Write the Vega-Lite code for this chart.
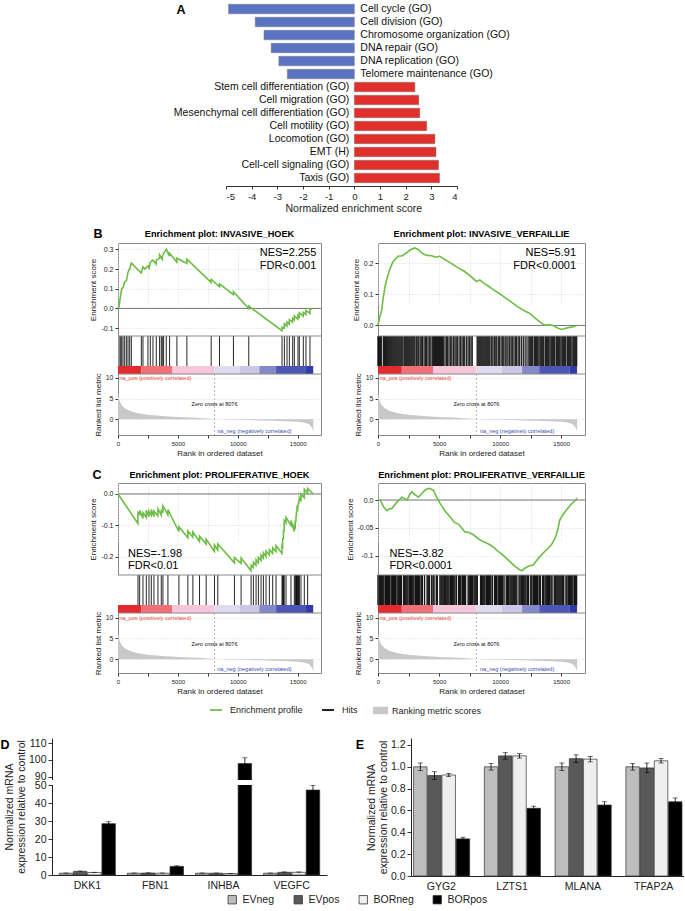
{
"$schema":"https://vega.github.io/schema/vega-lite/v6.json",
"padding":{"left":0,"top":3,"right":0,"bottom":0},
"background":"white",
"config":{"font":"Liberation Sans","view":{"stroke":null},"axis":{"domainColor":"#333","tickColor":"#333","labelColor":"#222","titleColor":"#222","labelFont":"Liberation Sans","titleFont":"Liberation Sans","labelOverlap":false,"tickCount":20},"legend":{"labelFont":"Liberation Sans"},"title":{"font":"Liberation Sans","color":"#000"},"text":{"font":"Liberation Sans"}},
"datasets":{
"ranked":[{"rank":0,"metric":6.5},{"rank":30,"metric":6.0},{"rank":80,"metric":5.0},{"rank":150,"metric":4.3},{"rank":250,"metric":3.7},{"rank":400,"metric":3.1},{"rank":600,"metric":2.6},{"rank":850,"metric":2.2},{"rank":1150,"metric":1.85},{"rank":1500,"metric":1.55},{"rank":2000,"metric":1.28},{"rank":2500,"metric":1.08},{"rank":3000,"metric":0.95},{"rank":3500,"metric":0.83},{"rank":4000,"metric":0.73},{"rank":4500,"metric":0.64},{"rank":5000,"metric":0.56},{"rank":5500,"metric":0.49},{"rank":6000,"metric":0.42},{"rank":6500,"metric":0.35},{"rank":7000,"metric":0.28},{"rank":7500,"metric":0.2},{"rank":7900,"metric":0.1},{"rank":8060,"metric":0},{"rank":9000,"metric":-0.06},{"rank":10000,"metric":-0.12},{"rank":11000,"metric":-0.19},{"rank":12000,"metric":-0.26},{"rank":13000,"metric":-0.34},{"rank":14000,"metric":-0.44},{"rank":15000,"metric":-0.6},{"rank":15500,"metric":-0.75},{"rank":15900,"metric":-1.1},{"rank":16100,"metric":-1.6},{"rank":16250,"metric":-2.4},{"rank":16300,"metric":-3.0},{"rank":16310,"metric":0}],
"cbar":[{"s":0,"e":1950,"level":1},{"s":1950,"e":4530,"level":2},{"s":4530,"e":8060,"level":3},{"s":8060,"e":10140,"level":4},{"s":10140,"e":11800,"level":5},{"s":11800,"e":13200,"level":6},{"s":13200,"e":15700,"level":7},{"s":15700,"e":16300,"level":8}],
"hitsBL":[{"rank":86},{"rank":197},{"rank":308},{"rank":420},{"rank":558},{"rank":697},{"rank":836},{"rank":975},{"rank":1114},{"rank":1947},{"rank":2086},{"rank":2502},{"rank":2697},{"rank":2919},{"rank":3197},{"rank":3474},{"rank":3613},{"rank":3697},{"rank":3808},{"rank":4030},{"rank":4308},{"rank":4919},{"rank":5752},{"rank":7780},{"rank":8474},{"rank":9640},{"rank":10918},{"rank":13696},{"rank":13891},{"rank":14113},{"rank":14307},{"rank":14585},{"rank":14724},{"rank":15029},{"rank":15140},{"rank":15474},{"rank":15696},{"rank":16030}],
"hitsBR":[{"rank":0},{"rank":40},{"rank":120},{"rank":200},{"rank":280},{"rank":440},{"rank":520},{"rank":600},{"rank":680},{"rank":760},{"rank":840},{"rank":920},{"rank":1000},{"rank":1080},{"rank":1160},{"rank":1240},{"rank":1320},{"rank":1400},{"rank":1480},{"rank":1560},{"rank":1640},{"rank":1720},{"rank":1800},{"rank":1880},{"rank":1960},{"rank":2040},{"rank":2150},{"rank":2230},{"rank":2310},{"rank":2390},{"rank":2470},{"rank":2550},{"rank":2630},{"rank":2710},{"rank":2790},{"rank":2870},{"rank":2950},{"rank":3030},{"rank":3150},{"rank":3260},{"rank":3340},{"rank":3460},{"rank":3580},{"rank":3650},{"rank":3780},{"rank":3900},{"rank":3980},{"rank":4100},{"rank":4220},{"rank":4330},{"rank":4450},{"rank":4550},{"rank":4630},{"rank":4710},{"rank":4790},{"rank":4870},{"rank":4950},{"rank":5030},{"rank":5110},{"rank":5190},{"rank":5270},{"rank":5350},{"rank":5480},{"rank":5600},{"rank":5700},{"rank":5820},{"rank":5950},{"rank":6050},{"rank":6180},{"rank":6300},{"rank":6400},{"rank":6500},{"rank":6640},{"rank":6760},{"rank":6880},{"rank":7000},{"rank":7100},{"rank":7250},{"rank":7380},{"rank":7500},{"rank":7620},{"rank":7720},{"rank":8120},{"rank":8200},{"rank":8280},{"rank":8360},{"rank":8440},{"rank":8520},{"rank":8600},{"rank":8680},{"rank":8760},{"rank":8840},{"rank":8920},{"rank":9000},{"rank":9080},{"rank":9160},{"rank":9280},{"rank":9400},{"rank":9520},{"rank":9600},{"rank":9720},{"rank":9850},{"rank":9950},{"rank":10080},{"rank":10200},{"rank":10300},{"rank":10420},{"rank":10550},{"rank":10650},{"rank":10780},{"rank":10900},{"rank":11000},{"rank":11130},{"rank":11250},{"rank":11350},{"rank":11480},{"rank":11600},{"rank":11750},{"rank":11900},{"rank":12050},{"rank":12200},{"rank":12350},{"rank":12430},{"rank":12510},{"rank":12590},{"rank":12670},{"rank":12800},{"rank":12880},{"rank":12960},{"rank":13040},{"rank":13120},{"rank":13250},{"rank":13330},{"rank":13410},{"rank":13490},{"rank":13570},{"rank":13700},{"rank":13780},{"rank":13860},{"rank":13940},{"rank":14020},{"rank":14150},{"rank":14230},{"rank":14310},{"rank":14390},{"rank":14470},{"rank":14600},{"rank":14680},{"rank":14760},{"rank":14840},{"rank":14920},{"rank":15050},{"rank":15130},{"rank":15210},{"rank":15290},{"rank":15370},{"rank":15500},{"rank":15580},{"rank":15660},{"rank":15740},{"rank":15820},{"rank":15950},{"rank":16030},{"rank":16110},{"rank":16190},{"rank":16270}],
"hitsCL":[{"rank":1669},{"rank":1808},{"rank":2086},{"rank":2364},{"rank":2586},{"rank":2780},{"rank":3002},{"rank":3336},{"rank":3613},{"rank":3752},{"rank":4169},{"rank":5085},{"rank":5835},{"rank":6252},{"rank":6807},{"rank":7362},{"rank":8056},{"rank":8334},{"rank":9723},{"rank":10279},{"rank":11112},{"rank":11306},{"rank":11528},{"rank":11723},{"rank":11945},{"rank":12140},{"rank":12362},{"rank":12640},{"rank":12917},{"rank":13195},{"rank":13695},{"rank":13750},{"rank":13820},{"rank":13880},{"rank":14029},{"rank":14445},{"rank":14723},{"rank":14800},{"rank":14862},{"rank":14900},{"rank":14945},{"rank":15000},{"rank":15056},{"rank":15100},{"rank":15140},{"rank":15279},{"rank":15556},{"rank":15834}],
"hitsCR":[{"rank":0},{"rank":100},{"rank":190},{"rank":300},{"rank":390},{"rank":480},{"rank":600},{"rank":690},{"rank":780},{"rank":870},{"rank":960},{"rank":1080},{"rank":1170},{"rank":1260},{"rank":1350},{"rank":1440},{"rank":1560},{"rank":1650},{"rank":1740},{"rank":1830},{"rank":1920},{"rank":2100},{"rank":2190},{"rank":2280},{"rank":2370},{"rank":2460},{"rank":2580},{"rank":2670},{"rank":2760},{"rank":2850},{"rank":2940},{"rank":3060},{"rank":3150},{"rank":3240},{"rank":3330},{"rank":3420},{"rank":3540},{"rank":3630},{"rank":3810},{"rank":4020},{"rank":4110},{"rank":4200},{"rank":4380},{"rank":4500},{"rank":4590},{"rank":4770},{"rank":4860},{"rank":5070},{"rank":5160},{"rank":5250},{"rank":5340},{"rank":5460},{"rank":5550},{"rank":5640},{"rank":5730},{"rank":5820},{"rank":5940},{"rank":6030},{"rank":6120},{"rank":6210},{"rank":6300},{"rank":6420},{"rank":6600},{"rank":6690},{"rank":6780},{"rank":6900},{"rank":6990},{"rank":7080},{"rank":7170},{"rank":7380},{"rank":7470},{"rank":7560},{"rank":7650},{"rank":7740},{"rank":7860},{"rank":7950},{"rank":8040},{"rank":8130},{"rank":8400},{"rank":8490},{"rank":8580},{"rank":8670},{"rank":8760},{"rank":8880},{"rank":8970},{"rank":9060},{"rank":9150},{"rank":9240},{"rank":9360},{"rank":9540},{"rank":9630},{"rank":9720},{"rank":9840},{"rank":9930},{"rank":10020},{"rank":10110},{"rank":10200},{"rank":10320},{"rank":10500},{"rank":10590},{"rank":10680},{"rank":10800},{"rank":10890},{"rank":10980},{"rank":11070},{"rank":11160},{"rank":11280},{"rank":11370},{"rank":11550},{"rank":11640},{"rank":11760},{"rank":11850},{"rank":11940},{"rank":12030},{"rank":12120},{"rank":12240},{"rank":12330},{"rank":12510},{"rank":12600},{"rank":12720},{"rank":12810},{"rank":12900},{"rank":12990},{"rank":13080},{"rank":13200},{"rank":13290},{"rank":13470},{"rank":13560},{"rank":13680},{"rank":13770},{"rank":13860},{"rank":13950},{"rank":14040},{"rank":14160},{"rank":14250},{"rank":14430},{"rank":14520},{"rank":14640},{"rank":14730},{"rank":14820},{"rank":14910},{"rank":15000},{"rank":15120},{"rank":15210},{"rank":15390},{"rank":15480},{"rank":15600},{"rank":15690},{"rank":15780},{"rank":15870},{"rank":15960},{"rank":16080},{"rank":16170},{"rank":16260}],
"dvals":[{"gene":"DKK1","group":"EVneg","value":1.0,"lo":0.9,"hi":1.1},{"gene":"DKK1","group":"EVpos","value":2.0,"lo":1.8,"hi":2.2},{"gene":"DKK1","group":"BORneg","value":1.4,"lo":1.3,"hi":1.5},{"gene":"DKK1","group":"BORpos","value":28.5,"lo":27.5,"hi":29.6},{"gene":"FBN1","group":"EVneg","value":1.0,"lo":0.9,"hi":1.1},{"gene":"FBN1","group":"EVpos","value":1.1,"lo":1.0,"hi":1.2},{"gene":"FBN1","group":"BORneg","value":1.0,"lo":0.9,"hi":1.1},{"gene":"FBN1","group":"BORpos","value":4.8,"lo":4.5,"hi":5.1},{"gene":"INHBA","group":"EVneg","value":1.0,"lo":0.9,"hi":1.1},{"gene":"INHBA","group":"EVpos","value":1.0,"lo":0.9,"hi":1.1},{"gene":"INHBA","group":"BORneg","value":0.8,"lo":0.7,"hi":0.9},{"gene":"INHBA","group":"BORpos","value":97.8,"lo":94.5,"hi":101.2},{"gene":"VEGFC","group":"EVneg","value":1.0,"lo":0.9,"hi":1.1},{"gene":"VEGFC","group":"EVpos","value":1.5,"lo":1.3,"hi":1.7},{"gene":"VEGFC","group":"BORneg","value":1.5,"lo":1.3,"hi":1.7},{"gene":"VEGFC","group":"BORpos","value":47.2,"lo":44.8,"hi":49.8}]
},
"spacing":0,
"resolve":{"scale":{"color":"independent"},"legend":{"color":"independent"}},
"vconcat":[
{"spacing":0,"bounds":"flush","hconcat":[
 {"width":175,"height":222,"data":{"values":[]},"mark":"point"},
 {"width":12,"height":13,"data":{"values":[{}]},"mark":{"type":"text","text":"A","fontSize":12.5,"fontWeight":"bold"}},
 {"width":39,"height":1,"data":{"values":[]},"mark":"point"},
 {"width":231,"height":181,
  "data":{"values":[{"term":"Cell cycle (GO)","nes":-4.9},{"term":"Cell division (GO)","nes":-3.86},{"term":"Chromosome organization (GO)","nes":-3.52},{"term":"DNA repair (GO)","nes":-3.24},{"term":"DNA replication (GO)","nes":-2.94},{"term":"Telomere maintenance (GO)","nes":-2.61},{"term":"Stem cell differentiation (GO)","nes":2.36},{"term":"Cell migration (GO)","nes":2.51},{"term":"Mesenchymal cell differentiation (GO)","nes":2.55},{"term":"Cell motility (GO)","nes":2.82},{"term":"Locomotion (GO)","nes":3.14},{"term":"EMT (H)","nes":3.18},{"term":"Cell-cell signaling (GO)","nes":3.28},{"term":"Taxis (GO)","nes":3.32}]},
  "encoding":{"y":{"field":"term","type":"nominal","axis":null,"scale":{"domain":["Cell cycle (GO)","Cell division (GO)","Chromosome organization (GO)","DNA repair (GO)","DNA replication (GO)","Telomere maintenance (GO)","Stem cell differentiation (GO)","Cell migration (GO)","Mesenchymal cell differentiation (GO)","Cell motility (GO)","Locomotion (GO)","EMT (H)","Cell-cell signaling (GO)","Taxis (GO)"],"paddingInner":0.27,"paddingOuter":0.1}}},
  "layer":[
   {"mark":{"type":"bar","stroke":"#777","strokeWidth":0.5},"encoding":{"x":{"field":"nes","type":"quantitative","scale":{"domain":[-5,4],"nice":false},"axis":{"values":[-5,-4,-3,-2,-1,0,1,2,3,4],"tickCount":20,"format":"d","labelExpr":"replace(datum.label,'\u2212','-')","labelOverlap":false,"title":"Normalized enrichment score","titleFontSize":10.5,"titleFontWeight":"normal","titleX":59,"titleAlign":"left","labelFontSize":9.5,"tickSize":3,"grid":false,"offset":2,"titlePadding":3,"labelPadding":2}},"color":{"condition":{"test":"datum.nes < 0","value":"#5b73c3"},"value":"#e12f2b"}}},
   {"transform":[{"filter":"datum.nes < 0"}],"mark":{"type":"text","align":"left","dx":6,"fontSize":10.5,"color":"#111"},"encoding":{"x":{"datum":0},"text":{"field":"term"}}},
   {"transform":[{"filter":"datum.nes > 0"}],"mark":{"type":"text","align":"right","dx":-5,"fontSize":10.5,"color":"#111"},"encoding":{"x":{"datum":0},"text":{"field":"term"}}}
  ]}
]},
{"spacing":0,"bounds":"flush","hconcat":[
 {"width":93,"height":17,"data":{"values":[]},"mark":"point"},
 {"width":10,"height":17,"data":{"values":[{}]},"mark":{"type":"text","text":"B","fontSize":12.5,"fontWeight":"bold"}},
 {"width":15,"height":1,"data":{"values":[]},"mark":"point"},
 {"width":203,"height":17,"data":{"values":[{}]},"mark":{"type":"text","text":"Enrichment plot: INVASIVE_HOEK","fontSize":9.2,"fontWeight":"bold"}},
 {"width":57,"height":1,"data":{"values":[]},"mark":"point"},
 {"width":207,"height":17,"data":{"values":[{}]},"mark":{"type":"text","text":"Enrichment plot: INVASIVE_VERFAILLIE","fontSize":9.2,"fontWeight":"bold"}}
]},
{"spacing":0,"bounds":"flush","hconcat":[
 {"width":118,"height":225,"data":{"values":[]},"mark":"point"},
 {"width":203,"height":192,"view":{"stroke":"#888"},
  "resolve":{"scale":{"y":"independent"},"axis":{"y":"independent"}},
  "layer":[
   {"layer":[
     {"data":{"name":"ranked"},"mark":{"type":"area"},"encoding":{"x":{"field":"rank","type":"quantitative","scale":{"domain":[0,16950],"nice":false,"zero":false},"axis":{"values":[0,2500,5000,7500,10000,12500,15000],"tickCount":20,"format":"d","labelExpr":"datum.value % 5000 == 0 ? datum.label : ''","title":"Rank in ordered dataset","titleFontSize":8,"titleFontWeight":"normal","labelFontSize":6,"tickSize":3,"domain":false,"grid":true,"gridColor":"#d8d8d8","gridDash":[1,2],"labelPadding":2,"titlePadding":3,"labelFlush":false,"labelOverlap":false}},"y":{"field":"metric","type":"quantitative","scale":{"domain":[-3.77,10.89],"range":[192,131],"nice":false,"zero":false},"axis":{"orient":"left","values":[0,5,10],"tickCount":20,"title":"Ranked list metric","titleFontSize":8,"titleFontWeight":"normal","labelFontSize":7,"tickSize":3,"domain":false,"grid":true,"gridColor":"#d8d8d8","gridDash":[1,2],"titlePadding":3,"labelPadding":2,"labelOverlap":false}},"fill":{"datum":"Ranking metric scores","scale":{"domain":["Ranking metric scores"],"range":["#c8c8c8"]},"legend":{"orient":"none","legendX":373,"legendY":700,"direction":"horizontal","title":null,"symbolType":"M-1,-0.5H1V0.5H-1Z","symbolSize":225,"symbolStrokeWidth":0,"labelFontSize":9,"labelOffset":4,"labelColor":"#222"}}}},
     {"data":{"values":[{}]},"mark":{"type":"rule","color":"#999","strokeDash":[2,2],"strokeWidth":0.7},"encoding":{"x":{"datum":8060},"y":{"datum":10.89},"y2":{"datum":-3.77}}},
     {"data":{"values":[{}]},"mark":{"type":"text","text":"na_pos (positively correlated)","color":"#e8413a","fontSize":5.5,"align":"left","baseline":"middle"},"encoding":{"x":{"datum":120},"y":{"datum":10}}},
     {"data":{"values":[{}]},"mark":{"type":"text","text":"Zero cross at 8076","color":"#111","fontSize":5.5,"align":"center","baseline":"middle"},"encoding":{"x":{"datum":8060},"y":{"datum":3.6}}},
     {"data":{"values":[{}]},"mark":{"type":"text","text":"na_neg (negatively correlated)","color":"#3b4bb5","fontSize":5.5,"align":"center","baseline":"middle"},"encoding":{"x":{"datum":11390},"y":{"datum":-2.74}}}
   ]},
   {"layer":[
     {"data":{"values":[{}]},"mark":{"type":"rule","color":"#555","strokeWidth":0.8},"encoding":{"y":{"datum":0,"scale":{"domain":[-0.14,0.332],"range":[93,0],"nice":false,"zero":false},"axis":{"orient":"left","values":[-0.1,0,0.1,0.2,0.3],"tickCount":20,"format":".1f","labelExpr":"replace(datum.label,'\u2212','-')","title":"Enrichment score","titleFontSize":8,"titleFontWeight":"normal","labelFontSize":7,"tickSize":3,"domain":false,"grid":true,"gridColor":"#d8d8d8","gridDash":[1,2],"titlePadding":3,"labelPadding":2,"labelOverlap":false}}}},
     {"data":{"values":[{"rank":0,"es":0},{"rank":86,"es":0.01},{"rank":200,"es":0.06},{"rank":310,"es":0.1},{"rank":420,"es":0.105},{"rank":560,"es":0.135},{"rank":700,"es":0.14},{"rank":840,"es":0.185},{"rank":975,"es":0.2},{"rank":1114,"es":0.23},{"rank":1940,"es":0.18},{"rank":2086,"es":0.21},{"rank":2220,"es":0.2},{"rank":2502,"es":0.215},{"rank":2600,"es":0.205},{"rank":2697,"es":0.235},{"rank":2919,"es":0.245},{"rank":3190,"es":0.225},{"rank":3197,"es":0.245},{"rank":3470,"es":0.255},{"rank":3474,"es":0.272},{"rank":3690,"es":0.25},{"rank":3697,"es":0.262},{"rank":3808,"es":0.28},{"rank":4030,"es":0.3},{"rank":4300,"es":0.265},{"rank":4308,"es":0.28},{"rank":4910,"es":0.235},{"rank":4919,"es":0.255},{"rank":5745,"es":0.228},{"rank":5752,"es":0.25},{"rank":7770,"es":0.132},{"rank":7780,"es":0.148},{"rank":8470,"es":0.11},{"rank":8474,"es":0.125},{"rank":9630,"es":0.07},{"rank":9640,"es":0.085},{"rank":10910,"es":0.0},{"rank":10918,"es":0.012},{"rank":13690,"es":-0.113},{"rank":13696,"es":-0.095},{"rank":13885,"es":-0.1},{"rank":13891,"es":-0.078},{"rank":14105,"es":-0.09},{"rank":14113,"es":-0.07},{"rank":14300,"es":-0.08},{"rank":14307,"es":-0.058},{"rank":14580,"es":-0.07},{"rank":14585,"es":-0.05},{"rank":14720,"es":-0.058},{"rank":14724,"es":-0.038},{"rank":15020,"es":-0.055},{"rank":15029,"es":-0.035},{"rank":15135,"es":-0.042},{"rank":15140,"es":-0.022},{"rank":15470,"es":-0.04},{"rank":15474,"es":-0.02},{"rank":15690,"es":-0.03},{"rank":15696,"es":-0.01},{"rank":16025,"es":-0.025},{"rank":16030,"es":-0.005},{"rank":16260,"es":0.0}]},
      "mark":{"type":"line","strokeWidth":1.6},
      "encoding":{"x":{"field":"rank","type":"quantitative","scale":{"domain":[0,16950],"nice":false,"zero":false}},"y":{"field":"es","type":"quantitative"},"stroke":{"datum":"Enrichment profile","scale":{"domain":["Enrichment profile","Hits"],"range":["#6cbd45","#000000"]},"legend":{"orient":"none","legendX":209,"legendY":700,"direction":"horizontal","title":null,"symbolType":"stroke","symbolSize":144,"symbolStrokeWidth":2,"labelFontSize":9,"labelOffset":7,"columnPadding":15,"labelColor":"#222"}}}},
     {"data":{"values":[{}]},"mark":{"type":"text","text":["NES=2.255","FDR<0.001"],"align":"right","baseline":"top","fontSize":11,"lineHeight":13},"encoding":{"x":{"datum":16560},"y":{"datum":0.31}}}
   ]},
   {"data":{"values":[{}]},"mark":{"type":"rect","fill":"white"},"encoding":{"y":{"datum":0,"scale":{"domain":[0,1],"range":[123,93]},"axis":null},"y2":{"datum":1}}},
   {"data":{"name":"hitsBL"},"mark":{"type":"rule","strokeWidth":1,"opacity":0.85},"encoding":{"x":{"field":"rank","type":"quantitative","scale":{"domain":[0,16950],"nice":false,"zero":false}},"y":{"datum":0,"scale":{"domain":[0,1],"range":[123,93]},"axis":null},"y2":{"datum":1},"stroke":{"datum":"Hits","scale":{"domain":["Enrichment profile","Hits"],"range":["#6cbd45","#000000"]}}}},
   {"data":{"name":"cbar"},"mark":{"type":"rect"},"encoding":{"x":{"field":"s","type":"quantitative","scale":{"domain":[0,16950],"nice":false,"zero":false}},"x2":{"field":"e"},"y":{"datum":0,"scale":{"domain":[0,1],"range":[131,123]},"axis":null},"y2":{"datum":1},"color":{"field":"level","type":"ordinal","scale":{"range":["#e32a2d","#ef7076","#f6c6da","#dfdcef","#cbc7e6","#8389cb","#4d55b5","#303ba7"]},"legend":null}}},
   {"data":{"values":[{}]},"mark":{"type":"rule","color":"#888","strokeWidth":1},"encoding":{"y":{"datum":1,"scale":{"domain":[0,1],"range":[123,93]},"axis":null}}},
   {"data":{"values":[{}]},"mark":{"type":"rule","color":"#888","strokeWidth":1},"encoding":{"y":{"datum":0,"scale":{"domain":[0,1],"range":[131,123]},"axis":null}}}
  ]},
 {"width":57,"height":1,"data":{"values":[]},"mark":"point"},
 {"width":207,"height":192,"view":{"stroke":"#888"},
  "resolve":{"scale":{"y":"independent"},"axis":{"y":"independent"}},
  "layer":[
   {"layer":[
     {"data":{"name":"ranked"},"mark":{"type":"area"},"encoding":{"x":{"field":"rank","type":"quantitative","scale":{"domain":[0,16950],"nice":false,"zero":false},"axis":{"values":[0,2500,5000,7500,10000,12500,15000],"tickCount":20,"format":"d","labelExpr":"datum.value % 5000 == 0 ? datum.label : ''","title":"Rank in ordered dataset","titleFontSize":8,"titleFontWeight":"normal","labelFontSize":6,"tickSize":3,"domain":false,"grid":true,"gridColor":"#d8d8d8","gridDash":[1,2],"labelPadding":2,"titlePadding":3,"labelFlush":false,"labelOverlap":false}},"y":{"field":"metric","type":"quantitative","scale":{"domain":[-3.77,10.89],"range":[192,131],"nice":false,"zero":false},"axis":{"orient":"left","values":[0,5,10],"tickCount":20,"title":"Ranked list metric","titleFontSize":8,"titleFontWeight":"normal","labelFontSize":7,"tickSize":3,"domain":false,"grid":true,"gridColor":"#d8d8d8","gridDash":[1,2],"titlePadding":3,"labelPadding":2,"labelOverlap":false}},"fill":{"datum":"Ranking metric scores","scale":{"domain":["Ranking metric scores"],"range":["#c8c8c8"]}}}},
     {"data":{"values":[{}]},"mark":{"type":"rule","color":"#999","strokeDash":[2,2],"strokeWidth":0.7},"encoding":{"x":{"datum":8060},"y":{"datum":10.89},"y2":{"datum":-3.77}}},
     {"data":{"values":[{}]},"mark":{"type":"text","text":"na_pos (positively correlated)","color":"#e8413a","fontSize":5.5,"align":"left","baseline":"middle"},"encoding":{"x":{"datum":120},"y":{"datum":10}}},
     {"data":{"values":[{}]},"mark":{"type":"text","text":"Zero cross at 8076","color":"#111","fontSize":5.5,"align":"center","baseline":"middle"},"encoding":{"x":{"datum":8060},"y":{"datum":3.6}}},
     {"data":{"values":[{}]},"mark":{"type":"text","text":"na_neg (negatively correlated)","color":"#3b4bb5","fontSize":5.5,"align":"center","baseline":"middle"},"encoding":{"x":{"datum":11390},"y":{"datum":-2.74}}}
   ]},
   {"layer":[
     {"data":{"values":[{}]},"mark":{"type":"rule","color":"#555","strokeWidth":0.8},"encoding":{"y":{"datum":0,"scale":{"domain":[-0.034,0.266],"range":[93,0],"nice":false,"zero":false},"axis":{"orient":"left","values":[0,0.1,0.2],"tickCount":20,"format":".1f","title":"Enrichment score","titleFontSize":8,"titleFontWeight":"normal","labelFontSize":7,"tickSize":3,"domain":false,"grid":true,"gridColor":"#d8d8d8","gridDash":[1,2],"titlePadding":3,"labelPadding":2,"labelOverlap":false}}}},
     {"data":{"values":[{"rank":0,"es":0},{"rank":100,"es":0.02},{"rank":300,"es":0.05},{"rank":450,"es":0.095},{"rank":574,"es":0.125},{"rank":700,"es":0.145},{"rank":820,"es":0.163},{"rank":1000,"es":0.185},{"rank":1230,"es":0.206},{"rank":1450,"es":0.215},{"rank":1640,"es":0.223},{"rank":2000,"es":0.225},{"rank":2320,"es":0.234},{"rank":2700,"es":0.245},{"rank":3005,"es":0.25},{"rank":3300,"es":0.245},{"rank":3550,"es":0.235},{"rank":3825,"es":0.228},{"rank":4100,"es":0.226},{"rank":4400,"es":0.225},{"rank":4700,"es":0.22},{"rank":5057,"es":0.223},{"rank":5600,"es":0.21},{"rank":6150,"es":0.196},{"rank":6600,"es":0.185},{"rank":7100,"es":0.174},{"rank":7600,"es":0.158},{"rank":8060,"es":0.142},{"rank":8336,"es":0.147},{"rank":8700,"es":0.135},{"rank":9000,"es":0.128},{"rank":9350,"es":0.118},{"rank":9700,"es":0.109},{"rank":10050,"es":0.1},{"rank":10400,"es":0.09},{"rank":10750,"es":0.08},{"rank":11066,"es":0.071},{"rank":11450,"es":0.06},{"rank":11800,"es":0.052},{"rank":12100,"es":0.045},{"rank":12432,"es":0.039},{"rank":12750,"es":0.028},{"rank":13000,"es":0.02},{"rank":13300,"es":0.01},{"rank":13660,"es":0.001},{"rank":14000,"es":0.002},{"rank":14345,"es":0.0},{"rank":14700,"es":-0.008},{"rank":15027,"es":-0.013},{"rank":15300,"es":-0.01},{"rank":15600,"es":-0.007},{"rank":15984,"es":-0.004},{"rank":16300,"es":0.0}]},
      "mark":{"type":"line","strokeWidth":1.6},
      "encoding":{"x":{"field":"rank","type":"quantitative","scale":{"domain":[0,16950],"nice":false,"zero":false}},"y":{"field":"es","type":"quantitative"},"stroke":{"datum":"Enrichment profile","scale":{"domain":["Enrichment profile","Hits"],"range":["#6cbd45","#000000"]}}}},
     {"data":{"values":[{}]},"mark":{"type":"text","text":["NES=5.91","FDR<0.0001"],"align":"right","baseline":"top","fontSize":11,"lineHeight":13},"encoding":{"x":{"datum":16216},"y":{"datum":0.2526}}}
   ]},
   {"data":{"values":[{}]},"mark":{"type":"rect","fill":"white"},"encoding":{"y":{"datum":0,"scale":{"domain":[0,1],"range":[123,93]},"axis":null},"y2":{"datum":1}}},
   {"data":{"name":"hitsBR"},"mark":{"type":"rule","strokeWidth":1.3,"opacity":0.85},"encoding":{"x":{"field":"rank","type":"quantitative","scale":{"domain":[0,16950],"nice":false,"zero":false}},"y":{"datum":0,"scale":{"domain":[0,1],"range":[123,93]},"axis":null},"y2":{"datum":1},"stroke":{"datum":"Hits","scale":{"domain":["Enrichment profile","Hits"],"range":["#6cbd45","#000000"]}}}},
   {"data":{"name":"cbar"},"mark":{"type":"rect"},"encoding":{"x":{"field":"s","type":"quantitative","scale":{"domain":[0,16950],"nice":false,"zero":false}},"x2":{"field":"e"},"y":{"datum":0,"scale":{"domain":[0,1],"range":[131,123]},"axis":null},"y2":{"datum":1},"color":{"field":"level","type":"ordinal","scale":{"range":["#e32a2d","#ef7076","#f6c6da","#dfdcef","#cbc7e6","#8389cb","#4d55b5","#303ba7"]},"legend":null}}},
   {"data":{"values":[{}]},"mark":{"type":"rule","color":"#888","strokeWidth":1},"encoding":{"y":{"datum":1,"scale":{"domain":[0,1],"range":[123,93]},"axis":null}}},
   {"data":{"values":[{}]},"mark":{"type":"rule","color":"#888","strokeWidth":1},"encoding":{"y":{"datum":0,"scale":{"domain":[0,1],"range":[131,123]},"axis":null}}}
  ]}
]},
{"spacing":0,"bounds":"flush","hconcat":[
 {"width":92,"height":14,"data":{"values":[]},"mark":"point"},
 {"width":10,"height":14,"data":{"values":[{}]},"mark":{"type":"text","text":"C","fontSize":12.5,"fontWeight":"bold"}},
 {"width":16,"height":1,"data":{"values":[]},"mark":"point"},
 {"width":203,"height":14,"data":{"values":[{}]},"mark":{"type":"text","text":"Enrichment plot: PROLIFERATIVE_HOEK","fontSize":9.2,"fontWeight":"bold"}},
 {"width":57,"height":1,"data":{"values":[]},"mark":"point"},
 {"width":207,"height":14,"data":{"values":[{}]},"mark":{"type":"text","text":"Enrichment plot: PROLIFERATIVE_VERFAILLIE","fontSize":9.2,"fontWeight":"bold"}}
]},
{"spacing":0,"bounds":"flush","hconcat":[
 {"width":118,"height":255,"data":{"values":[]},"mark":"point"},
 {"width":203,"height":190,"view":{"stroke":"#888"},
  "resolve":{"scale":{"y":"independent"},"axis":{"y":"independent"}},
  "layer":[
   {"layer":[
     {"data":{"name":"ranked"},"mark":{"type":"area"},"encoding":{"x":{"field":"rank","type":"quantitative","scale":{"domain":[0,16950],"nice":false,"zero":false},"axis":{"values":[0,2500,5000,7500,10000,12500,15000],"tickCount":20,"format":"d","labelExpr":"datum.value % 5000 == 0 ? datum.label : ''","title":"Rank in ordered dataset","titleFontSize":8,"titleFontWeight":"normal","labelFontSize":6,"tickSize":3,"domain":false,"grid":true,"gridColor":"#d8d8d8","gridDash":[1,2],"labelPadding":2,"titlePadding":3,"labelFlush":false,"labelOverlap":false}},"y":{"field":"metric","type":"quantitative","scale":{"domain":[-3.3,11.13],"range":[190,130],"nice":false,"zero":false},"axis":{"orient":"left","values":[0,5,10],"tickCount":20,"title":"Ranked list metric","titleFontSize":8,"titleFontWeight":"normal","labelFontSize":7,"tickSize":3,"domain":false,"grid":true,"gridColor":"#d8d8d8","gridDash":[1,2],"titlePadding":3,"labelPadding":2,"labelOverlap":false}},"fill":{"datum":"Ranking metric scores","scale":{"domain":["Ranking metric scores"],"range":["#c8c8c8"]}}}},
     {"data":{"values":[{}]},"mark":{"type":"rule","color":"#999","strokeDash":[2,2],"strokeWidth":0.7},"encoding":{"x":{"datum":8060},"y":{"datum":11.13},"y2":{"datum":-3.3}}},
     {"data":{"values":[{}]},"mark":{"type":"text","text":"na_pos (positively correlated)","color":"#e8413a","fontSize":5.5,"align":"left","baseline":"middle"},"encoding":{"x":{"datum":120},"y":{"datum":10}}},
     {"data":{"values":[{}]},"mark":{"type":"text","text":"Zero cross at 8076","color":"#111","fontSize":5.5,"align":"center","baseline":"middle"},"encoding":{"x":{"datum":8060},"y":{"datum":3.6}}},
     {"data":{"values":[{}]},"mark":{"type":"text","text":"na_neg (negatively correlated)","color":"#3b4bb5","fontSize":5.5,"align":"center","baseline":"middle"},"encoding":{"x":{"datum":11390},"y":{"datum":-2.4}}}
   ]},
   {"layer":[
     {"data":{"values":[{}]},"mark":{"type":"rule","color":"#555","strokeWidth":0.8},"encoding":{"y":{"datum":0,"scale":{"domain":[-0.259,0.035],"range":[92,0],"nice":false,"zero":false},"axis":{"orient":"left","values":[-0.2,-0.1,0],"tickCount":20,"format":".1f","labelExpr":"replace(datum.label,'\u2212','-')","title":"Enrichment score","titleFontSize":8,"titleFontWeight":"normal","labelFontSize":7,"tickSize":3,"domain":false,"grid":true,"gridColor":"#d8d8d8","gridDash":[1,2],"titlePadding":3,"labelPadding":2,"labelOverlap":false}}}},
     {"data":{"values":[{"rank":0,"es":0},{"rank":1660,"es":-0.094},{"rank":1669,"es":-0.06},{"rank":1800,"es":-0.065},{"rank":1808,"es":-0.052},{"rank":2080,"es":-0.078},{"rank":2086,"es":-0.06},{"rank":2360,"es":-0.075},{"rank":2364,"es":-0.052},{"rank":2580,"es":-0.073},{"rank":2586,"es":-0.055},{"rank":2775,"es":-0.068},{"rank":2780,"es":-0.05},{"rank":2998,"es":-0.073},{"rank":3002,"es":-0.055},{"rank":3330,"es":-0.07},{"rank":3336,"es":-0.048},{"rank":3608,"es":-0.067},{"rank":3613,"es":-0.05},{"rank":3748,"es":-0.06},{"rank":3752,"es":-0.038},{"rank":4165,"es":-0.067},{"rank":4169,"es":-0.05},{"rank":5080,"es":-0.12},{"rank":5085,"es":-0.105},{"rank":5830,"es":-0.14},{"rank":5835,"es":-0.118},{"rank":6248,"es":-0.138},{"rank":6252,"es":-0.122},{"rank":6800,"es":-0.152},{"rank":6807,"es":-0.135},{"rank":7358,"es":-0.16},{"rank":7362,"es":-0.145},{"rank":8050,"es":-0.184},{"rank":8056,"es":-0.163},{"rank":8330,"es":-0.179},{"rank":8334,"es":-0.16},{"rank":9720,"es":-0.22},{"rank":9723,"es":-0.203},{"rank":10275,"es":-0.222},{"rank":10279,"es":-0.205},{"rank":11108,"es":-0.245},{"rank":11112,"es":-0.228},{"rank":11302,"es":-0.235},{"rank":11306,"es":-0.218},{"rank":11524,"es":-0.228},{"rank":11528,"es":-0.21},{"rank":11719,"es":-0.22},{"rank":11723,"es":-0.203},{"rank":11941,"es":-0.213},{"rank":11945,"es":-0.195},{"rank":12136,"es":-0.205},{"rank":12140,"es":-0.188},{"rank":12358,"es":-0.2},{"rank":12362,"es":-0.182},{"rank":12636,"es":-0.195},{"rank":12640,"es":-0.178},{"rank":12913,"es":-0.19},{"rank":12917,"es":-0.172},{"rank":13191,"es":-0.184},{"rank":13195,"es":-0.165},{"rank":13690,"es":-0.19},{"rank":13695,"es":-0.165},{"rank":13745,"es":-0.168},{"rank":13750,"es":-0.14},{"rank":13815,"es":-0.145},{"rank":13820,"es":-0.115},{"rank":13875,"es":-0.12},{"rank":13880,"es":-0.085},{"rank":14025,"es":-0.092},{"rank":14029,"es":-0.075},{"rank":14440,"es":-0.1},{"rank":14445,"es":-0.085},{"rank":14718,"es":-0.12},{"rank":14723,"es":-0.1},{"rank":14796,"es":-0.105},{"rank":14800,"es":-0.085},{"rank":14858,"es":-0.09},{"rank":14862,"es":-0.07},{"rank":14896,"es":-0.073},{"rank":14900,"es":-0.055},{"rank":14941,"es":-0.058},{"rank":14945,"es":-0.045},{"rank":14996,"es":-0.048},{"rank":15000,"es":-0.035},{"rank":15052,"es":-0.04},{"rank":15056,"es":-0.028},{"rank":15096,"es":-0.032},{"rank":15100,"es":-0.02},{"rank":15136,"es":-0.025},{"rank":15140,"es":-0.012},{"rank":15275,"es":-0.02},{"rank":15279,"es":0.0},{"rank":15552,"es":-0.012},{"rank":15556,"es":0.015},{"rank":15830,"es":0.002},{"rank":15834,"es":0.018},{"rank":16300,"es":0.0}]},
      "mark":{"type":"line","strokeWidth":1.6},
      "encoding":{"x":{"field":"rank","type":"quantitative","scale":{"domain":[0,16950],"nice":false,"zero":false}},"y":{"field":"es","type":"quantitative"},"stroke":{"datum":"Enrichment profile","scale":{"domain":["Enrichment profile","Hits"],"range":["#6cbd45","#000000"]}}}},
     {"data":{"values":[{}]},"mark":{"type":"text","text":["NES=-1.98","FDR<0.01"],"align":"left","baseline":"top","fontSize":11,"lineHeight":12.5},"encoding":{"x":{"datum":833},"y":{"datum":-0.172}}}
   ]},
   {"data":{"values":[{}]},"mark":{"type":"rect","fill":"white"},"encoding":{"y":{"datum":0,"scale":{"domain":[0,1],"range":[122,92]},"axis":null},"y2":{"datum":1}}},
   {"data":{"name":"hitsCL"},"mark":{"type":"rule","strokeWidth":1,"opacity":0.85},"encoding":{"x":{"field":"rank","type":"quantitative","scale":{"domain":[0,16950],"nice":false,"zero":false}},"y":{"datum":0,"scale":{"domain":[0,1],"range":[122,92]},"axis":null},"y2":{"datum":1},"stroke":{"datum":"Hits","scale":{"domain":["Enrichment profile","Hits"],"range":["#6cbd45","#000000"]}}}},
   {"data":{"name":"cbar"},"mark":{"type":"rect"},"encoding":{"x":{"field":"s","type":"quantitative","scale":{"domain":[0,16950],"nice":false,"zero":false}},"x2":{"field":"e"},"y":{"datum":0,"scale":{"domain":[0,1],"range":[130,122]},"axis":null},"y2":{"datum":1},"color":{"field":"level","type":"ordinal","scale":{"range":["#e32a2d","#ef7076","#f6c6da","#dfdcef","#cbc7e6","#8389cb","#4d55b5","#303ba7"]},"legend":null}}},
   {"data":{"values":[{}]},"mark":{"type":"rule","color":"#888","strokeWidth":1},"encoding":{"y":{"datum":1,"scale":{"domain":[0,1],"range":[122,92]},"axis":null}}},
   {"data":{"values":[{}]},"mark":{"type":"rule","color":"#888","strokeWidth":1},"encoding":{"y":{"datum":0,"scale":{"domain":[0,1],"range":[130,122]},"axis":null}}}
  ]},
 {"width":57,"height":1,"data":{"values":[]},"mark":"point"},
 {"width":207,"height":190,"view":{"stroke":"#888"},
  "resolve":{"scale":{"y":"independent"},"axis":{"y":"independent"}},
  "layer":[
   {"layer":[
     {"data":{"name":"ranked"},"mark":{"type":"area"},"encoding":{"x":{"field":"rank","type":"quantitative","scale":{"domain":[0,16950],"nice":false,"zero":false},"axis":{"values":[0,2500,5000,7500,10000,12500,15000],"tickCount":20,"format":"d","labelExpr":"datum.value % 5000 == 0 ? datum.label : ''","title":"Rank in ordered dataset","titleFontSize":8,"titleFontWeight":"normal","labelFontSize":6,"tickSize":3,"domain":false,"grid":true,"gridColor":"#d8d8d8","gridDash":[1,2],"labelPadding":2,"titlePadding":3,"labelFlush":false,"labelOverlap":false}},"y":{"field":"metric","type":"quantitative","scale":{"domain":[-3.3,11.13],"range":[190,130],"nice":false,"zero":false},"axis":{"orient":"left","values":[0,5,10],"tickCount":20,"title":"Ranked list metric","titleFontSize":8,"titleFontWeight":"normal","labelFontSize":7,"tickSize":3,"domain":false,"grid":true,"gridColor":"#d8d8d8","gridDash":[1,2],"titlePadding":3,"labelPadding":2,"labelOverlap":false}},"fill":{"datum":"Ranking metric scores","scale":{"domain":["Ranking metric scores"],"range":["#c8c8c8"]}}}},
     {"data":{"values":[{}]},"mark":{"type":"rule","color":"#999","strokeDash":[2,2],"strokeWidth":0.7},"encoding":{"x":{"datum":8060},"y":{"datum":11.13},"y2":{"datum":-3.3}}},
     {"data":{"values":[{}]},"mark":{"type":"text","text":"na_pos (positively correlated)","color":"#e8413a","fontSize":5.5,"align":"left","baseline":"middle"},"encoding":{"x":{"datum":120},"y":{"datum":10}}},
     {"data":{"values":[{}]},"mark":{"type":"text","text":"Zero cross at 8076","color":"#111","fontSize":5.5,"align":"center","baseline":"middle"},"encoding":{"x":{"datum":8060},"y":{"datum":3.6}}},
     {"data":{"values":[{}]},"mark":{"type":"text","text":"na_neg (negatively correlated)","color":"#3b4bb5","fontSize":5.5,"align":"center","baseline":"middle"},"encoding":{"x":{"datum":11390},"y":{"datum":-2.4}}}
   ]},
   {"layer":[
     {"data":{"values":[{}]},"mark":{"type":"rule","color":"#555","strokeWidth":0.8},"encoding":{"y":{"datum":0,"scale":{"domain":[-0.134,0.0304],"range":[92,0],"nice":false,"zero":false},"axis":{"orient":"left","values":[-0.1,-0.05,0],"tickCount":20,"labelExpr":"datum.value == 0 ? '0.0' : (datum.value < -0.07 ? '-0.1' : '-0.05')","title":"Enrichment score","titleFontSize":8,"titleFontWeight":"normal","labelFontSize":7,"tickSize":3,"domain":false,"grid":true,"gridColor":"#d8d8d8","gridDash":[1,2],"titlePadding":3,"labelPadding":2,"labelOverlap":false}}}},
     {"data":{"values":[{"rank":0,"es":0},{"rank":190,"es":0.0},{"rank":450,"es":-0.012},{"rank":734,"es":-0.019},{"rank":900,"es":-0.016},{"rank":1142,"es":-0.015},{"rank":1500,"es":-0.005},{"rank":1958,"es":0.005},{"rank":2150,"es":0.003},{"rank":2366,"es":0.0},{"rank":2600,"es":0.01},{"rank":2774,"es":0.015},{"rank":3000,"es":0.01},{"rank":3318,"es":0.005},{"rank":3600,"es":0.012},{"rank":3862,"es":0.018},{"rank":4134,"es":0.021},{"rank":4300,"es":0.02},{"rank":4542,"es":0.017},{"rank":4800,"es":0.005},{"rank":5086,"es":-0.006},{"rank":5500,"es":-0.02},{"rank":5902,"es":-0.03},{"rank":6250,"es":-0.04},{"rank":6582,"es":-0.043},{"rank":6850,"es":-0.05},{"rank":7126,"es":-0.057},{"rank":7450,"es":-0.058},{"rank":7806,"es":-0.062},{"rank":8150,"es":-0.068},{"rank":8486,"es":-0.073},{"rank":8800,"es":-0.076},{"rank":9166,"es":-0.08},{"rank":9500,"es":-0.085},{"rank":9846,"es":-0.092},{"rank":10300,"es":-0.1},{"rank":10798,"es":-0.11},{"rank":11200,"es":-0.118},{"rank":11614,"es":-0.125},{"rank":11800,"es":-0.126},{"rank":12022,"es":-0.122},{"rank":12350,"es":-0.118},{"rank":12702,"es":-0.116},{"rank":13100,"es":-0.105},{"rank":13518,"es":-0.095},{"rank":13850,"es":-0.088},{"rank":14198,"es":-0.08},{"rank":14450,"es":-0.07},{"rank":14606,"es":-0.062},{"rank":14750,"es":-0.05},{"rank":14878,"es":-0.036},{"rank":15150,"es":-0.026},{"rank":15422,"es":-0.018},{"rank":15800,"es":-0.008},{"rank":16184,"es":0.0},{"rank":16300,"es":0.003}]},
      "mark":{"type":"line","strokeWidth":1.6},
      "encoding":{"x":{"field":"rank","type":"quantitative","scale":{"domain":[0,16950],"nice":false,"zero":false}},"y":{"field":"es","type":"quantitative"},"stroke":{"datum":"Enrichment profile","scale":{"domain":["Enrichment profile","Hits"],"range":["#6cbd45","#000000"]}}}},
     {"data":{"values":[{}]},"mark":{"type":"text","text":["NES=-3.82","FDR<0.0001"],"align":"left","baseline":"top","fontSize":11,"lineHeight":12.5},"encoding":{"x":{"datum":950},"y":{"datum":-0.0854}}}
   ]},
   {"data":{"values":[{}]},"mark":{"type":"rect","fill":"white"},"encoding":{"y":{"datum":0,"scale":{"domain":[0,1],"range":[122,92]},"axis":null},"y2":{"datum":1}}},
   {"data":{"name":"hitsCR"},"mark":{"type":"rule","strokeWidth":1.4,"opacity":0.9},"encoding":{"x":{"field":"rank","type":"quantitative","scale":{"domain":[0,16950],"nice":false,"zero":false}},"y":{"datum":0,"scale":{"domain":[0,1],"range":[122,92]},"axis":null},"y2":{"datum":1},"stroke":{"datum":"Hits","scale":{"domain":["Enrichment profile","Hits"],"range":["#6cbd45","#000000"]}}}},
   {"data":{"name":"cbar"},"mark":{"type":"rect"},"encoding":{"x":{"field":"s","type":"quantitative","scale":{"domain":[0,16950],"nice":false,"zero":false}},"x2":{"field":"e"},"y":{"datum":0,"scale":{"domain":[0,1],"range":[130,122]},"axis":null},"y2":{"datum":1},"color":{"field":"level","type":"ordinal","scale":{"range":["#e32a2d","#ef7076","#f6c6da","#dfdcef","#cbc7e6","#8389cb","#4d55b5","#303ba7"]},"legend":null}}},
   {"data":{"values":[{}]},"mark":{"type":"rule","color":"#888","strokeWidth":1},"encoding":{"y":{"datum":1,"scale":{"domain":[0,1],"range":[122,92]},"axis":null}}},
   {"data":{"values":[{}]},"mark":{"type":"rule","color":"#888","strokeWidth":1},"encoding":{"y":{"datum":0,"scale":{"domain":[0,1],"range":[130,122]},"axis":null}}}
  ]}
]},
{"spacing":0,"bounds":"flush","hconcat":[
 {"width":10,"height":13,"data":{"values":[{}]},"mark":{"type":"text","text":"D","fontSize":12.5,"fontWeight":"bold"}},
 {"width":42,"height":1,"data":{"values":[]},"mark":"point"},
 {"width":275,"height":137,
  "layer":[
   {"data":{"name":"dvals"},"mark":{"type":"bar","stroke":"#333","strokeWidth":0.7},"encoding":{"x":{"field":"gene","type":"nominal","scale":{"paddingInner":0.176,"paddingOuter":0.107},"axis":{"title":null,"labelAngle":0,"labelFontSize":10.5,"ticks":false,"labelPadding":5,"domainColor":"#222"}},"xOffset":{"field":"group","type":"nominal","scale":{"domain":["EVneg","EVpos","BORneg","BORpos"],"paddingInner":0.05}},"y":{"field":"value","type":"quantitative","scale":{"domain":[0,50,88,110,113],"range":[137,47,42,5,0],"nice":false},"axis":{"values":[0,10,20,30,40,50,90,100,110],"tickCount":20,"format":"d","labelOverlap":false,"title":["Normalized mRNA","expression relative to control"],"titleFontSize":10.5,"titleFontWeight":"normal","titleLineHeight":12,"labelFontSize":10.5,"tickSize":4,"grid":false,"titlePadding":2,"labelPadding":2,"domainColor":"#222"}},"color":{"field":"group","type":"nominal","scale":{"domain":["EVneg","EVpos","BORneg","BORpos"],"range":["#bdbdbd","#595959","#efefef","#000000"]},"legend":{"orient":"none","legendX":227,"legendY":156,"direction":"horizontal","title":null,"symbolType":"square","symbolSize":70,"symbolStrokeColor":"#333","symbolStrokeWidth":0.8,"labelFontSize":10.5,"columnPadding":17,"labelOffset":5,"labelColor":"#222"}}}},
   {"data":{"name":"dvals"},"mark":{"type":"rule","color":"#000","strokeWidth":0.8},"encoding":{"x":{"field":"gene","type":"nominal"},"xOffset":{"field":"group","type":"nominal"},"y":{"field":"lo","type":"quantitative"},"y2":{"field":"hi"}}},
   {"data":{"name":"dvals"},"mark":{"type":"tick","color":"#000","thickness":0.8,"size":5,"orient":"horizontal"},"encoding":{"x":{"field":"gene","type":"nominal"},"xOffset":{"field":"group","type":"nominal"},"y":{"field":"hi","type":"quantitative"}}},
   {"data":{"values":[{}]},"mark":{"type":"rect","fill":"white"},"encoding":{"y":{"datum":50.6},"y2":{"datum":87.4}}}
  ]},
 {"width":28,"height":1,"data":{"values":[]},"mark":"point"},
 {"width":10,"height":14,"data":{"values":[{}]},"mark":{"type":"text","text":"E","fontSize":12.5,"fontWeight":"bold"}},
 {"width":46,"height":1,"data":{"values":[]},"mark":"point"},
 {"width":273,"height":138,
  "data":{"values":[{"gene":"GYG2","group":"EVneg","value":1.0,"lo":0.965,"hi":1.035},{"gene":"GYG2","group":"EVpos","value":0.92,"lo":0.885,"hi":0.955},{"gene":"GYG2","group":"BORneg","value":0.925,"lo":0.91,"hi":0.94},{"gene":"GYG2","group":"BORpos","value":0.34,"lo":0.325,"hi":0.355},{"gene":"LZTS1","group":"EVneg","value":1.0,"lo":0.97,"hi":1.03},{"gene":"LZTS1","group":"EVpos","value":1.1,"lo":1.07,"hi":1.13},{"gene":"LZTS1","group":"BORneg","value":1.1,"lo":1.08,"hi":1.12},{"gene":"LZTS1","group":"BORpos","value":0.62,"lo":0.6,"hi":0.64},{"gene":"MLANA","group":"EVneg","value":1.0,"lo":0.965,"hi":1.035},{"gene":"MLANA","group":"EVpos","value":1.075,"lo":1.04,"hi":1.11},{"gene":"MLANA","group":"BORneg","value":1.07,"lo":1.045,"hi":1.095},{"gene":"MLANA","group":"BORpos","value":0.65,"lo":0.62,"hi":0.68},{"gene":"TFAP2A","group":"EVneg","value":1.0,"lo":0.97,"hi":1.03},{"gene":"TFAP2A","group":"EVpos","value":0.99,"lo":0.945,"hi":1.035},{"gene":"TFAP2A","group":"BORneg","value":1.055,"lo":1.035,"hi":1.075},{"gene":"TFAP2A","group":"BORpos","value":0.68,"lo":0.645,"hi":0.715}]},
  "encoding":{"x":{"field":"gene","type":"nominal","scale":{"paddingInner":0.215,"paddingOuter":0.036},"axis":{"title":null,"labelAngle":0,"labelFontSize":10.5,"ticks":false,"labelPadding":5,"domainColor":"#222"}},"xOffset":{"field":"group","type":"nominal","scale":{"domain":["EVneg","EVpos","BORneg","BORpos"],"paddingInner":0.05}}},
  "layer":[
   {"mark":{"type":"bar","stroke":"#333","strokeWidth":0.7},"encoding":{"y":{"field":"value","type":"quantitative","scale":{"domain":[0,1.264],"nice":false},"axis":{"values":[0,0.2,0.4,0.6,0.8,1.0,1.2],"tickCount":20,"labelOverlap":false,"format":".1f","title":["Normalized mRNA","expression relative to control"],"titleFontSize":10.5,"titleFontWeight":"normal","titleLineHeight":12,"labelFontSize":10.5,"tickSize":4,"grid":false,"titlePadding":2,"labelPadding":2,"domainColor":"#222"}},"color":{"field":"group","type":"nominal","scale":{"domain":["EVneg","EVpos","BORneg","BORpos"],"range":["#bdbdbd","#595959","#efefef","#000000"]},"legend":null}}},
   {"mark":{"type":"rule","color":"#000","strokeWidth":0.8},"encoding":{"y":{"field":"lo","type":"quantitative"},"y2":{"field":"hi"}}},
   {"mark":{"type":"tick","color":"#000","thickness":0.8,"size":5,"orient":"horizontal"},"encoding":{"y":{"field":"hi","type":"quantitative"}}},
   {"mark":{"type":"tick","color":"#000","thickness":0.8,"size":5,"orient":"horizontal"},"encoding":{"y":{"field":"lo","type":"quantitative"}}}
  ]}
]}
]
}
